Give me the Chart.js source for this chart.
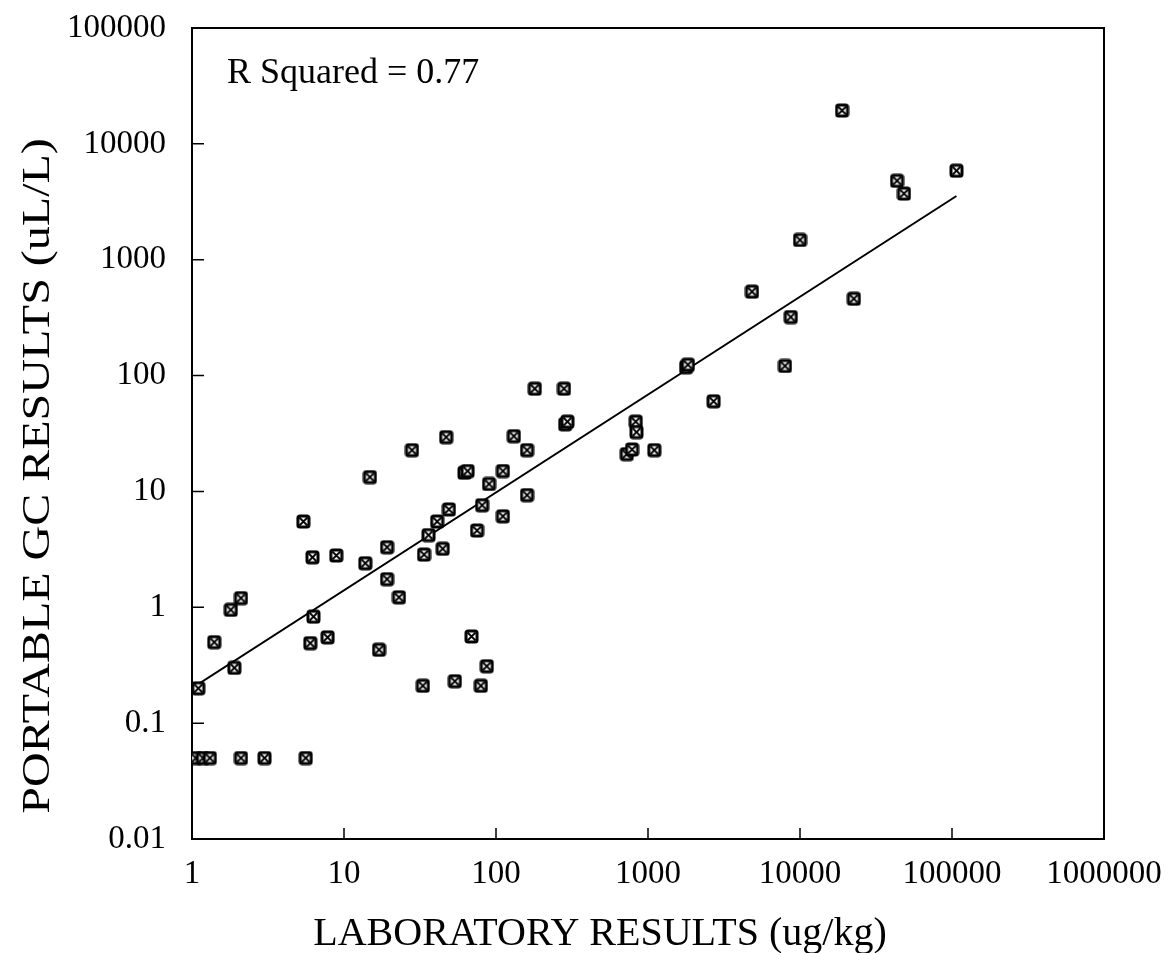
<!DOCTYPE html>
<html>
<head>
<meta charset="utf-8">
<script src="https://cdn.jsdelivr.net/npm/chart.js@4"></script>
<style>
  body { margin: 0; background: #fff; }
  canvas { display: block; }
</style>
</head>
<body>
<canvas id="chart" width="1175" height="953"></canvas>
<script>
// laboratory results (ug/kg) vs portable GC results (uL/L)
const labResults = [
  1.1, 1.06, 1.18, 1.31, 2.1, 3.0, 5.6, 1.4, 1.8, 2.1, 1.9,
  5.4, 6.2, 8.9, 6.3, 6.0, 7.8, 13.8, 14.8, 19.2, 19.2, 23, 17,
  28, 33.6, 36, 41, 44.6, 47, 49, 33, 53.6, 62, 65, 69, 75, 79.5,
  81, 87, 90, 111, 111, 131, 160, 160, 180, 280, 285, 295,
  725, 785, 830, 840, 1100, 1780, 1830, 2700, 4830, 7960, 8700,
  10000, 18900, 22600, 43500, 48300, 107000
]
const gcResults = [
  0.2, 0.05, 0.05, 0.05, 0.05, 0.05, 0.05, 0.5, 0.95, 1.2, 0.3,
  5.5, 2.7, 2.8, 0.83, 0.49, 0.55, 2.4, 13.3, 3.3, 1.75, 1.22, 0.43,
  22.7, 2.85, 4.2, 5.5, 3.2, 29.4, 7.0, 0.21, 0.23, 14.5, 15, 0.56, 4.6, 0.21,
  7.6, 0.31, 11.6, 15, 6.1, 30, 22.7, 9.3, 77, 77, 38, 40,
  21, 23, 40, 32.5, 22.7, 118, 124, 60, 530, 121, 320,
  1480, 19400, 460, 4800, 3720, 5860
]

// regression line end points
const fitX = [1, 107000]
const fitY = [0.2, 3550]

const xTicks = [1, 10, 100, 1000, 10000, 100000, 1000000]
const yTicks = [0.01, 0.1, 1, 10, 100, 1000, 10000, 100000]

const rSquaredText = "R Squared = 0.77"
const xTitle = "LABORATORY RESULTS (ug/kg)"
const yTitle = "PORTABLE GC RESULTS (uL/L)"

const FONT = "'Liberation Serif', 'Times New Roman', serif"

// crossed square marker
function makeMarker() {
    const c = document.createElement("canvas")
    c.width = 15
    c.height = 15
    const g = c.getContext("2d")
    g.fillStyle = "#000"
    g.beginPath()
    g.roundRect(0.5, 0.5, 14, 14, 3.5)
    g.fill()
    g.fillStyle = "#fff"
    g.fillRect(3.5, 3.5, 8, 8)
    g.strokeStyle = "#000"
    g.lineWidth = 1.8
    g.beginPath()
    g.moveTo(3.5, 3.5); g.lineTo(11.5, 11.5)
    g.moveTo(11.5, 3.5); g.lineTo(3.5, 11.5)
    g.stroke()
    return c
}

const points = labResults.map((x, i) => ({ x: x, y: gcResults[i] }))
const fitLine = fitX.map((x, i) => ({ x: x, y: fitY[i] }))

const decorations = {
    id: "decorations",
    afterDraw(chart) {
        const ctx = chart.ctx
        const a = chart.chartArea
        const xs = chart.scales.x
        const ys = chart.scales.y
        ctx.save()
        ctx.strokeStyle = "#000"
        ctx.lineWidth = 2
        // top and right of the frame
        ctx.beginPath()
        ctx.moveTo(a.left, a.top)
        ctx.lineTo(a.right, a.top)
        ctx.lineTo(a.right, a.bottom)
        ctx.stroke()
        // inward tick marks
        ctx.lineWidth = 1.5
        ctx.beginPath()
        yTicks.forEach(v => {
            const y = ys.getPixelForValue(v)
            ctx.moveTo(a.left, y)
            ctx.lineTo(a.left + 12, y)
        })
        xTicks.forEach(v => {
            const x = xs.getPixelForValue(v)
            ctx.moveTo(x, a.bottom)
            ctx.lineTo(x, a.bottom - 11)
        })
        ctx.stroke()

        ctx.fillStyle = "#000"
        ctx.font = "36px " + FONT
        ctx.textAlign = "left"
        ctx.textBaseline = "alphabetic"
        ctx.fillText(rSquaredText, a.left + 35, a.top + 55)

        ctx.font = "40px " + FONT
        ctx.textAlign = "center"
        ctx.textBaseline = "middle"
        ctx.fillText(xTitle, 600, 934)

        ctx.translate(38, 476)
        ctx.rotate(-Math.PI / 2)
        ctx.scale(1.2, 1)
        ctx.fillText(yTitle, 0, 0)
        ctx.restore()
    }
}

new Chart(document.getElementById("chart"), {
    type: "scatter",
    data: {
        datasets: [
            {
                label: "samples",
                data: points,
                pointStyle: makeMarker(),
                pointRadius: 7.5,
                pointHoverRadius: 7.5
            },
            {
                label: "fit",
                type: "line",
                data: fitLine,
                borderColor: "#000",
                borderWidth: 2,
                pointRadius: 0,
                fill: false,
                tension: 0
            }
        ]
    },
    options: {
        responsive: false,
        animation: false,
        layout: { padding: { left: 0, right: 71, top: 28, bottom: 0 } },
        plugins: {
            legend: { display: false },
            tooltip: { enabled: false }
        },
        scales: {
            x: {
                type: "logarithmic",
                min: 1,
                max: 1000000,
                grid: { display: false, drawTicks: false },
                border: { display: true, color: "#000", width: 2 },
                afterBuildTicks: s => { s.ticks = xTicks.map(v => ({ value: v })) },
                afterFit: s => {
                    s.height = 114
                    s.paddingLeft = 0
                    s.paddingRight = 0
                },
                ticks: {
                    color: "#000",
                    padding: 16,
                    maxRotation: 0,
                    autoSkip: false,
                    font: { family: FONT, size: 33 },
                    callback: v => String(v)
                }
            },
            y: {
                type: "logarithmic",
                min: 0.01,
                max: 100000,
                grid: { display: false, drawTicks: false },
                border: { display: true, color: "#000", width: 2 },
                afterBuildTicks: s => { s.ticks = yTicks.map(v => ({ value: v })) },
                afterFit: s => {
                    s.width = 192
                    s.paddingTop = 0
                    s.paddingBottom = 0
                },
                ticks: {
                    color: "#000",
                    padding: 26,
                    autoSkip: false,
                    font: { family: FONT, size: 33 },
                    callback: v => String(v)
                }
            }
        }
    },
    plugins: [decorations]
})
</script>
</body>
</html>
